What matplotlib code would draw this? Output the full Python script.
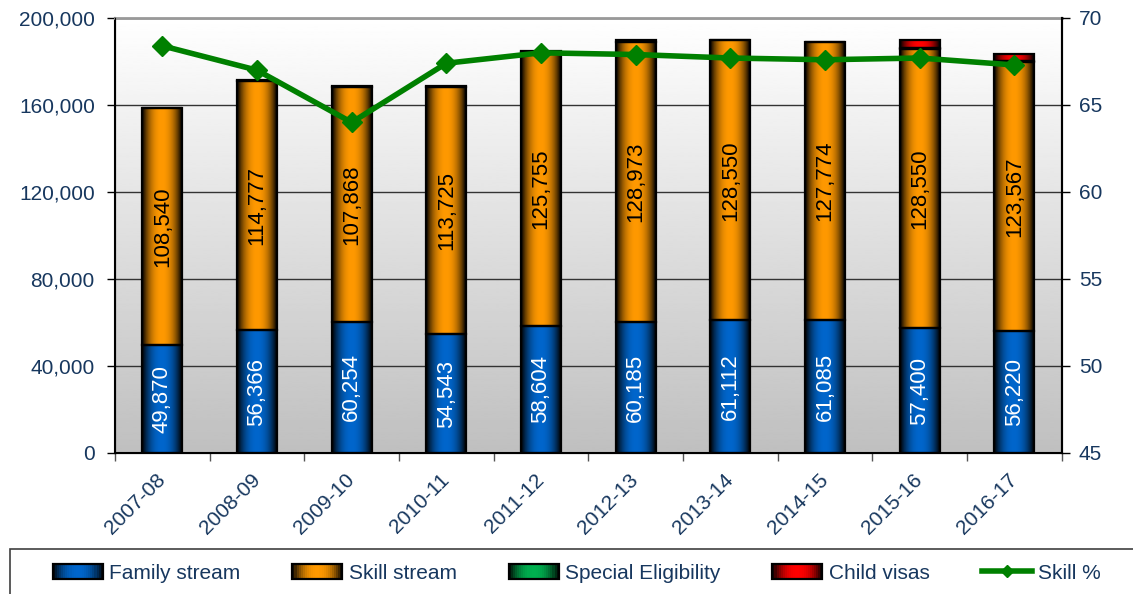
import numpy as np
import matplotlib
matplotlib.use("Agg")
import matplotlib.pyplot as plt
from matplotlib.patches import Rectangle
from matplotlib.lines import Line2D
from matplotlib.legend_handler import HandlerBase
from matplotlib.ticker import FuncFormatter, FixedLocator

plt.rcParams['font.family'] = ['Liberation Sans', 'DejaVu Sans']

years = ['2007-08', '2008-09', '2009-10', '2010-11', '2011-12',
         '2012-13', '2013-14', '2014-15', '2015-16', '2016-17']
family = [49870, 56366, 60254, 54543, 58604, 60185, 61112, 61085, 57400, 56220]
skill = [108540, 114777, 107868, 113725, 125755, 128973, 128550, 127774, 128550, 123567]
special = [220, 175, 501, 417, 639, 842, 338, 238, 308, 421]
child = [0, 0, 0, 0, 0, 0, 0, 0, 3512, 3400]
skill_pct = [68.4, 67.0, 64.0, 67.4, 68.0, 67.9, 67.7, 67.6, 67.7, 67.3]

TXT = '#17375E'
C_FAM = np.array([0.0, 0.40, 0.80])
C_SKL = np.array([1.0, 0.60, 0.0])
C_SPE = np.array([0.0, 0.69, 0.31])
C_CHD = np.array([1.0, 0.0, 0.0])


def shade(t):
    # dark at both edges, full colour in the middle
    return np.clip(1 - (np.abs(t - 0.5) / 0.5) ** 2.2, 0, 1)


def grad_img(c, n=64):
    t = np.linspace(0, 1, n)
    return (shade(t)[:, None] * c[None, :])[None, :, :]


def gbar(ax, x, bottom, h, c, w=0.42):
    if h <= 0:
        return
    ax.imshow(grad_img(c), extent=[x - w / 2, x + w / 2, bottom, bottom + h],
              aspect='auto', interpolation='bilinear', zorder=2)
    ax.add_patch(Rectangle((x - w / 2, bottom), w, h, fill=False,
                           ec='black', lw=1.6, zorder=3))


class GradHandler(HandlerBase):
    def create_artists(self, legend, orig_handle, xd, yd, width, height,
                       fontsize, trans):
        c = orig_handle.color
        n = 24
        arts = []
        for i in range(n):
            t = (i + 0.5) / n
            arts.append(Rectangle((-xd + width * i / n, -yd), width / n + 0.3,
                                  height, fc=c * shade(t), ec='none',
                                  transform=trans))
        arts.append(Rectangle((-xd, -yd), width, height, fill=False,
                              ec='black', lw=1.6, transform=trans))
        return arts


class GradKey:
    def __init__(self, color):
        self.color = color


fig = plt.figure(figsize=(11.33, 5.94), dpi=100)
ax = fig.add_axes([0.1015, 0.2374, 0.8355, 0.7323])

# background gradient of the plot area
bg = np.linspace(1.0, 0.75, 256)[:, None]
ax.imshow(bg, extent=[-0.5, 9.5, 0, 200000], aspect='auto', cmap='gray',
          vmin=0, vmax=1, zorder=0, interpolation='bilinear')

for i in range(len(years)):
    b = 0
    for vals, c in ((family, C_FAM), (skill, C_SKL), (special, C_SPE), (child, C_CHD)):
        gbar(ax, i, b, vals[i], c)
        b += vals[i]
    ax.text(i, family[i] / 2, f'{family[i]:,}', rotation=90, color='white',
            ha='center', va='center', fontsize=16, zorder=4)
    ax.text(i, family[i] + skill[i] / 2, f'{skill[i]:,}', rotation=90,
            color='black', ha='center', va='center', fontsize=16, zorder=4)

ax.set_xlim(-0.5, 9.5)
ax.set_ylim(0, 200000)
ax.set_yticks(np.arange(0, 200001, 40000))
ax.yaxis.set_major_formatter(FuncFormatter(lambda v, p: f'{int(v):,}'))
ax.set_xticks(range(len(years)))
ax.set_xticklabels(years, rotation=45, ha='right', va='center',
                   rotation_mode='anchor')
ax.xaxis.set_minor_locator(FixedLocator(np.arange(-0.5, 10, 1)))
ax.tick_params(axis='x', which='major', length=0, pad=17, labelsize=15,
               labelcolor=TXT)
ax.tick_params(axis='x', which='minor', length=6, width=1, color='#555555')
ax.tick_params(axis='y', length=6, width=1, labelsize=15, labelcolor=TXT,
               pad=8.5)
ax.grid(axis='y', color='#333333', lw=1, zorder=1)
ax.set_axisbelow(True)
for s in ('left', 'bottom', 'right'):
    ax.spines[s].set_linewidth(1.5)
ax.spines['top'].set_color('#999999')
ax.spines['top'].set_linewidth(2)

ax2 = ax.twinx()
ax2.plot(range(len(years)), skill_pct, color='#008000', lw=4, marker='D',
         ms=10, zorder=5)
ax2.set_ylim(45, 70)
ax2.set_yticks(range(45, 71, 5))
ax2.tick_params(axis='y', length=6, width=1, labelsize=15, labelcolor=TXT,
                pad=6.5)
ax2.spines['right'].set_linewidth(1.5)
ax2.spines['top'].set_visible(False)

# legend box along the bottom
fig.patches.append(Rectangle((10 / 1133, -0.05), 1.2, 0.05 + 45 / 594,
                             transform=fig.transFigure, fill=False,
                             ec='#404040', lw=1.2))
handles = [GradKey(C_FAM), GradKey(C_SKL), GradKey(C_SPE), GradKey(C_CHD),
           Line2D([], [], color='#008000', lw=4, marker='D', ms=6)]
labels = ['Family stream', 'Skill stream', 'Special Eligibility', 'Child visas',
          'Skill %']
leg = fig.legend(handles, labels, loc='center', bbox_to_anchor=(0.509, 0.035),
                 ncol=5, frameon=False, fontsize=15, handlelength=2.4,
                 handletextpad=0.3, columnspacing=2.5,
                 handler_map={GradKey: GradHandler()})
for t in leg.get_texts():
    t.set_color(TXT)

fig.savefig('out.png', dpi=100)
